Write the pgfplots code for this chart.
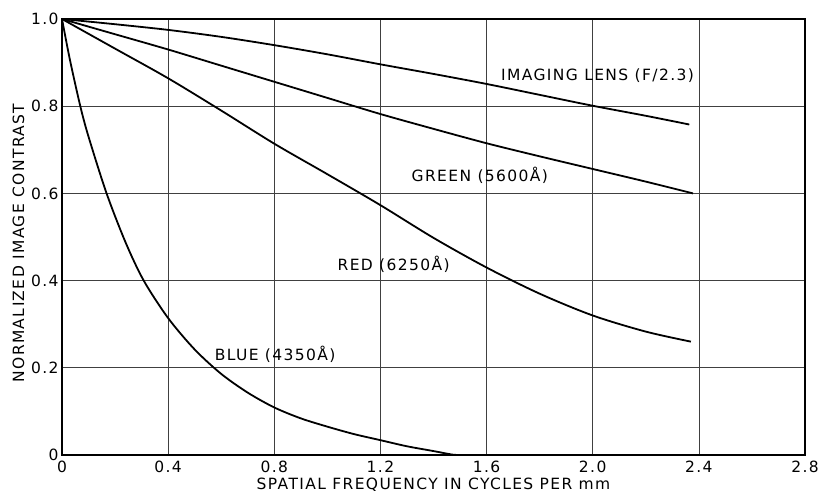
\documentclass[border=0pt]{standalone}
\usepackage{fontspec}
\setmainfont{DejaVu Sans}[LetterSpace=9]
\usepackage{pgfplots}
\pgfplotsset{compat=1.18}
\newcommand\chartfont{\fontsize{15.5}{18}\selectfont}
\pgfplotsset{curve/.style={black, line width=1.8pt, smooth, no marks}}

\begin{document}
\begin{tikzpicture}
\useasboundingbox (0,0) rectangle (820pt,492pt);
\begin{axis}[
  at={(62pt,37pt)}, anchor=south west,
  scale only axis, width=743pt, height=436pt,
  xmin=0, xmax=2.8, ymin=0, ymax=1.0,
  xtick={0,0.4,0.8,1.2,1.6,2.0,2.4,2.8},
  xticklabels={0,0.4,0.8,1.2,1.6,2.0,2.4,2.8},
  ytick={0,0.2,0.4,0.6,0.8,1.0},
  yticklabels={0,0.2,0.4,0.6,0.8,1.0},
  grid=major,
  major grid style={black!75, line width=0.7pt},
  major tick length=0pt,
  axis line style={line width=1.5pt},
  tick label style={font=\chartfont},
  label style={font=\chartfont},
  xticklabel style={yshift=-2pt},
  xlabel={SPATIAL FREQUENCY IN CYCLES PER mm},
  ylabel={NORMALIZED IMAGE CONTRAST},
  xlabel style={at={(axis description cs:0.5,-0.069)}, anchor=center},
  ylabel style={at={(axis description cs:-0.0585,0.486)}, anchor=center},
]
% imaging lens (F/2.3)
\addplot[curve] coordinates {(0,1.0) (0.2,0.988) (0.4,0.975) (0.6,0.959) (0.8,0.940)
  (1.0,0.919) (1.2,0.896) (1.4,0.874) (1.6,0.851) (1.8,0.826) (2.0,0.801)
  (2.2,0.778) (2.364,0.758)};
% green, 5600 A
\addplot[curve] coordinates {(0,1.0) (0.2,0.965) (0.4,0.930) (0.6,0.893) (0.8,0.856)
  (1.0,0.819) (1.2,0.782) (1.4,0.748) (1.6,0.715) (1.8,0.685) (2.0,0.656)
  (2.2,0.627) (2.378,0.600)};
% red, 6250 A
\addplot[curve] coordinates {(0,1.0) (0.2,0.932) (0.4,0.864) (0.6,0.790) (0.8,0.714)
  (1.0,0.644) (1.2,0.573) (1.4,0.498) (1.6,0.430) (1.8,0.370) (2.0,0.320)
  (2.2,0.283) (2.37,0.260)};
% blue, 4350 A
\addplot[curve] coordinates {(0,1.0) (0.03,0.906) (0.069,0.80) (0.1,0.73) (0.168,0.60)
  (0.24,0.487) (0.308,0.40) (0.4,0.314) (0.5,0.242) (0.6,0.186)
  (0.7,0.143) (0.8,0.109) (0.9,0.084) (1.0,0.065) (1.1,0.048) (1.2,0.034)
  (1.3,0.02) (1.4,0.009) (1.47,0.001) (1.5,0.0)};

\node[anchor=base west, font=\chartfont, inner sep=0pt] at (axis cs:1.654,0.859) {IMAGING LENS (F/2.3)};
\node[anchor=base west, font=\chartfont, inner sep=0pt] at (axis cs:1.317,0.628) {GREEN (5600Å)};
\node[anchor=base west, font=\chartfont, inner sep=0pt] at (axis cs:1.038,0.424) {RED (6250Å)};
\node[anchor=base west, font=\chartfont, inner sep=0pt] at (axis cs:0.575,0.216) {BLUE (4350Å)};
\end{axis}
\end{tikzpicture}
\end{document}
